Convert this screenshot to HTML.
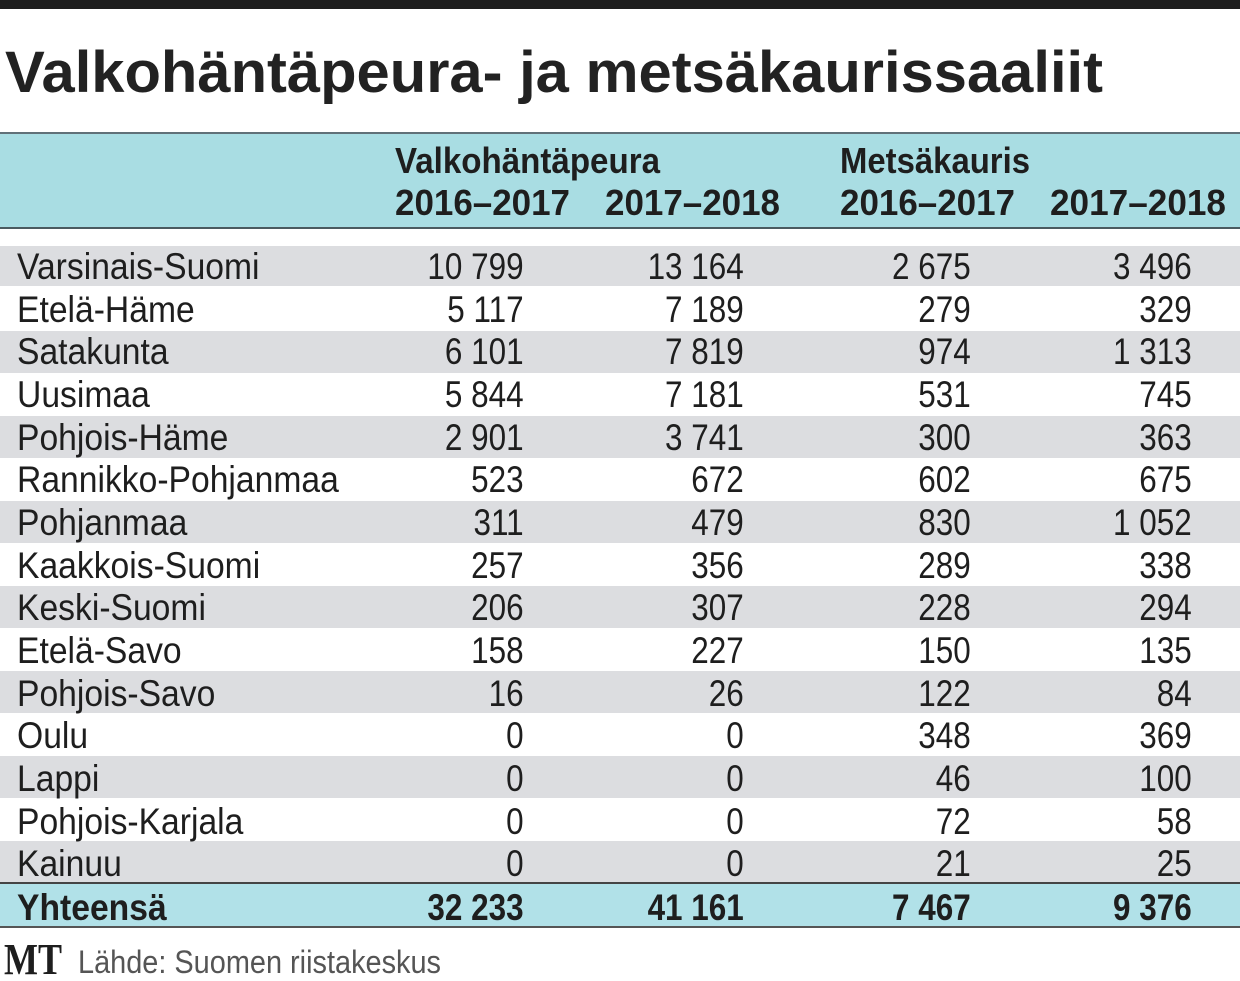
<!DOCTYPE html>
<html><head><meta charset="utf-8"><style>
html,body{margin:0;padding:0;background:#fff;}
svg{display:block;}
</style></head><body>
<svg width="1240" height="981" viewBox="0 0 1240 981" xmlns="http://www.w3.org/2000/svg" font-family="'Liberation Sans', 'DejaVu Sans', sans-serif">
<rect x="0" y="0" width="1240" height="981" fill="#fff"/>
<rect x="0" y="0" width="1240" height="9" fill="#1e1e1e"/>
<text x="5" y="92" font-size="58" font-weight="bold" fill="#222" textLength="1098" lengthAdjust="spacingAndGlyphs">Valkohäntäpeura- ja metsäkaurissaaliit</text>
<rect x="0" y="133" width="1240" height="95" fill="#a9dde3"/>
<rect x="0" y="132" width="1240" height="2" fill="#607078"/>
<rect x="0" y="227" width="1240" height="2" fill="#4a5a60"/>
<g font-size="36" font-weight="bold" fill="#1e1e1e">
<text x="395" y="173" textLength="265" lengthAdjust="spacingAndGlyphs">Valkohäntäpeura</text>
<text x="395" y="215" textLength="175" lengthAdjust="spacingAndGlyphs">2016–2017</text>
<text x="605" y="215" textLength="175" lengthAdjust="spacingAndGlyphs">2017–2018</text>
<text x="840" y="173" textLength="190" lengthAdjust="spacingAndGlyphs">Metsäkauris</text>
<text x="840" y="215" textLength="175" lengthAdjust="spacingAndGlyphs">2016–2017</text>
<text x="1050" y="215" textLength="176" lengthAdjust="spacingAndGlyphs">2017–2018</text>
</g>
<g fill="#dcdde0">
<rect x="0" y="246" width="1240" height="40"/>
<rect x="0" y="331" width="1240" height="42"/>
<rect x="0" y="416" width="1240" height="42"/>
<rect x="0" y="501" width="1240" height="42"/>
<rect x="0" y="586" width="1240" height="42"/>
<rect x="0" y="671" width="1240" height="42"/>
<rect x="0" y="756" width="1240" height="42"/>
<rect x="0" y="841" width="1240" height="42"/>
</g>
<rect x="0" y="883" width="1240" height="44" fill="#b1e1e8"/>
<rect x="0" y="882" width="1240" height="2" fill="#444"/>
<rect x="0" y="926" width="1240" height="2" fill="#555"/>
<g transform="scale(0.91,1)" font-size="37" fill="#1e1e1e">
<text x="18.7" y="279">Varsinais-Suomi</text>
<text x="18.7" y="322">Etelä-Häme</text>
<text x="18.7" y="364">Satakunta</text>
<text x="18.7" y="407">Uusimaa</text>
<text x="18.7" y="450">Pohjois-Häme</text>
<text x="18.7" y="492">Rannikko-Pohjanmaa</text>
<text x="18.7" y="535">Pohjanmaa</text>
<text x="18.7" y="578">Kaakkois-Suomi</text>
<text x="18.7" y="620">Keski-Suomi</text>
<text x="18.7" y="663">Etelä-Savo</text>
<text x="18.7" y="706">Pohjois-Savo</text>
<text x="18.7" y="748">Oulu</text>
<text x="18.7" y="791">Lappi</text>
<text x="18.7" y="834">Pohjois-Karjala</text>
<text x="18.7" y="876">Kainuu</text>
<text x="18.7" y="920" font-weight="bold">Yhteensä</text>
</g>
<g transform="scale(0.85,1)" font-size="37" fill="#1e1e1e">
<g text-anchor="end">
<text x="616" y="279">10 799</text><text x="875" y="279">13 164</text><text x="1142" y="279">2 675</text><text x="1402" y="279">3 496</text>
<text x="616" y="322">5 117</text><text x="875" y="322">7 189</text><text x="1142" y="322">279</text><text x="1402" y="322">329</text>
<text x="616" y="364">6 101</text><text x="875" y="364">7 819</text><text x="1142" y="364">974</text><text x="1402" y="364">1 313</text>
<text x="616" y="407">5 844</text><text x="875" y="407">7 181</text><text x="1142" y="407">531</text><text x="1402" y="407">745</text>
<text x="616" y="450">2 901</text><text x="875" y="450">3 741</text><text x="1142" y="450">300</text><text x="1402" y="450">363</text>
<text x="616" y="492">523</text><text x="875" y="492">672</text><text x="1142" y="492">602</text><text x="1402" y="492">675</text>
<text x="616" y="535">311</text><text x="875" y="535">479</text><text x="1142" y="535">830</text><text x="1402" y="535">1 052</text>
<text x="616" y="578">257</text><text x="875" y="578">356</text><text x="1142" y="578">289</text><text x="1402" y="578">338</text>
<text x="616" y="620">206</text><text x="875" y="620">307</text><text x="1142" y="620">228</text><text x="1402" y="620">294</text>
<text x="616" y="663">158</text><text x="875" y="663">227</text><text x="1142" y="663">150</text><text x="1402" y="663">135</text>
<text x="616" y="706">16</text><text x="875" y="706">26</text><text x="1142" y="706">122</text><text x="1402" y="706">84</text>
<text x="616" y="748">0</text><text x="875" y="748">0</text><text x="1142" y="748">348</text><text x="1402" y="748">369</text>
<text x="616" y="791">0</text><text x="875" y="791">0</text><text x="1142" y="791">46</text><text x="1402" y="791">100</text>
<text x="616" y="834">0</text><text x="875" y="834">0</text><text x="1142" y="834">72</text><text x="1402" y="834">58</text>
<text x="616" y="876">0</text><text x="875" y="876">0</text><text x="1142" y="876">21</text><text x="1402" y="876">25</text>
</g>
<g font-weight="bold" text-anchor="end">
<text x="616" y="920">32 233</text><text x="875" y="920">41 161</text><text x="1142" y="920">7 467</text><text x="1402" y="920">9 376</text>
</g>
</g>
<text x="4" y="974" font-family="'Liberation Serif', serif" font-size="44" font-weight="bold" fill="#1e1e1e" textLength="58" lengthAdjust="spacingAndGlyphs">MT</text>
<text x="78" y="973" font-size="32" fill="#555" textLength="363" lengthAdjust="spacingAndGlyphs">Lähde: Suomen riistakeskus</text>
</svg>
</body></html>
